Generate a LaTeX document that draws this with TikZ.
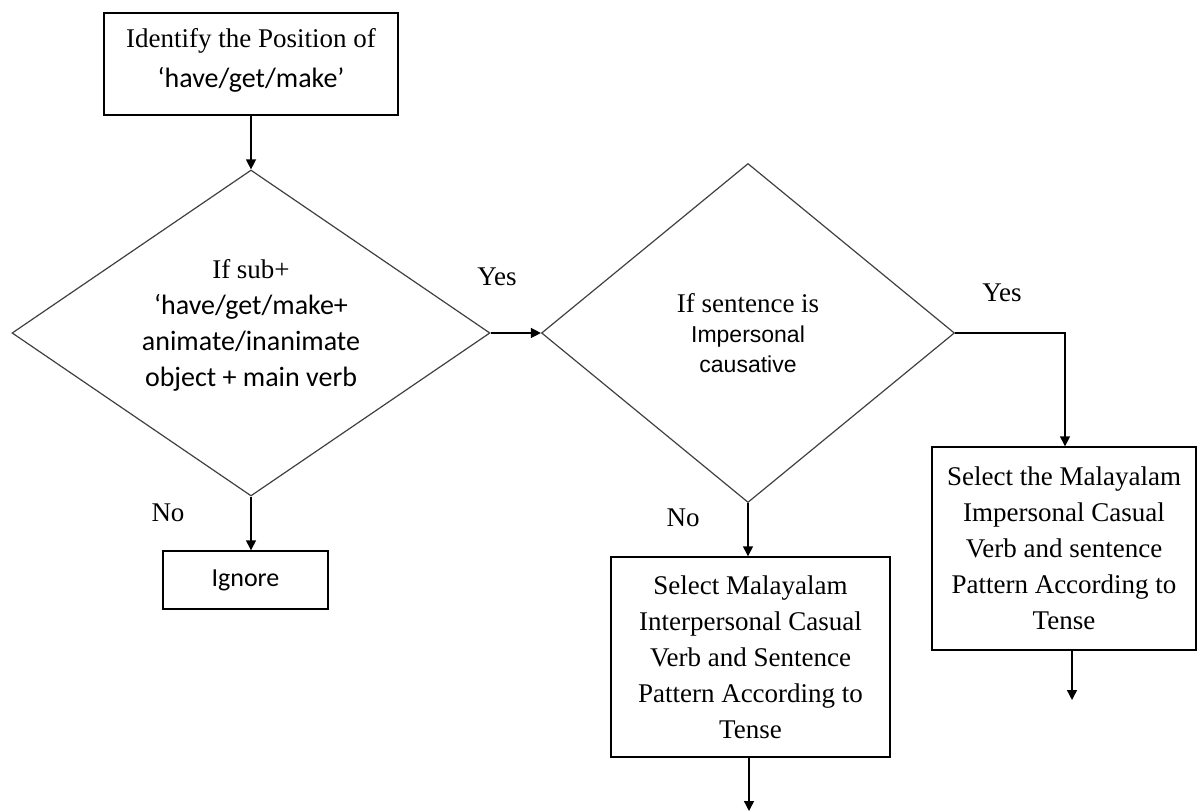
\documentclass[tikz,border=0pt]{standalone}
\usepackage{fontspec}
\setmainfont{Liberation Serif}
\newfontfamily\calfont{Carlito}
\newfontfamily\arialfont{Liberation Sans}
\usetikzlibrary{shapes.geometric,arrows.meta}
\begin{document}
\begin{tikzpicture}[x=0.5pt,y=-0.5pt,
  every node/.append style={inner sep=0pt,font=\fontsize{13.5}{18}\selectfont},
  box/.style={draw,rectangle,align=center,line width=0.7pt},
  choice/.style={draw,diamond,align=center,line width=0.6pt,draw=black!75},
  link/.style={line width=0.7pt,-{Triangle[length=5pt,width=5pt]}}]
\useasboundingbox (0,0) rectangle (1197,812);
% boxes and decisions
\node [box,minimum width=147pt,minimum height=51pt] (start) at (251,64)
  {Identify the Position of\\[2pt]{\calfont\fontsize{14}{18}\selectfont ‘have/get/make’}\\[-12pt]};
\node [choice,aspect=1.47,minimum width=239pt,minimum height=163pt] (cond1) at (251,333)
  {If sub+\\{\calfont\fontsize{14}{17.5}\selectfont ‘have/get/make+}\\
   {\calfont\fontsize{14}{17.5}\selectfont animate/inanimate}\\
   {\calfont\fontsize{14}{17.5}\selectfont object + main verb}\\[-8pt]};
\node [choice,aspect=1.22,minimum width=206.5pt,minimum height=169.5pt] (cond2) at (748,333)
  {If sentence is\\[-3pt]{\arialfont\fontsize{11.5}{15}\selectfont Impersonal}\\[-3pt]
   {\arialfont\fontsize{11.5}{15}\selectfont causative}};
\node [box,minimum width=82.5pt,minimum height=29pt] (ignore) at (245.5,580)
  {\calfont\fontsize{13}{16}\selectfont Ignore};
\node [box,minimum width=139.5pt,minimum height=100pt] (inter) at (750.5,657)
  {Select Malayalam\\Interpersonal Casual\\Verb and Sentence\\Pattern According to\\Tense};
\node [box,minimum width=132pt,minimum height=101.5pt] (imper) at (1064,548.5)
  {Select the Malayalam\\Impersonal Casual\\Verb and sentence\\Pattern According to\\Tense};
\coordinate (turn) at (1065,333);
\coordinate (end2) at (749,811);
\coordinate (end3) at (1072,700);
% labels
\node (yes1) at (497,277) {Yes};
\node (yes2) at (1002,293) {Yes};
\node (no1) at (168,513) {No};
\node (no2) at (683,518) {No};
% connectors
\draw [link] (start) -- (cond1);
\draw [link] (cond1.east) -- (cond2.west);
\draw [link] (cond1.south) -- (cond1.south |- ignore.north);
\draw [link] (cond2.south) -- (cond2.south |- inter.north);
\draw [link] (cond2.east) -- (turn) -- (turn |- imper.north);
\draw [link] (inter.south -| end2) -- (end2);
\draw [link] (imper.south -| end3) -- (end3);
\end{tikzpicture}
\end{document}
